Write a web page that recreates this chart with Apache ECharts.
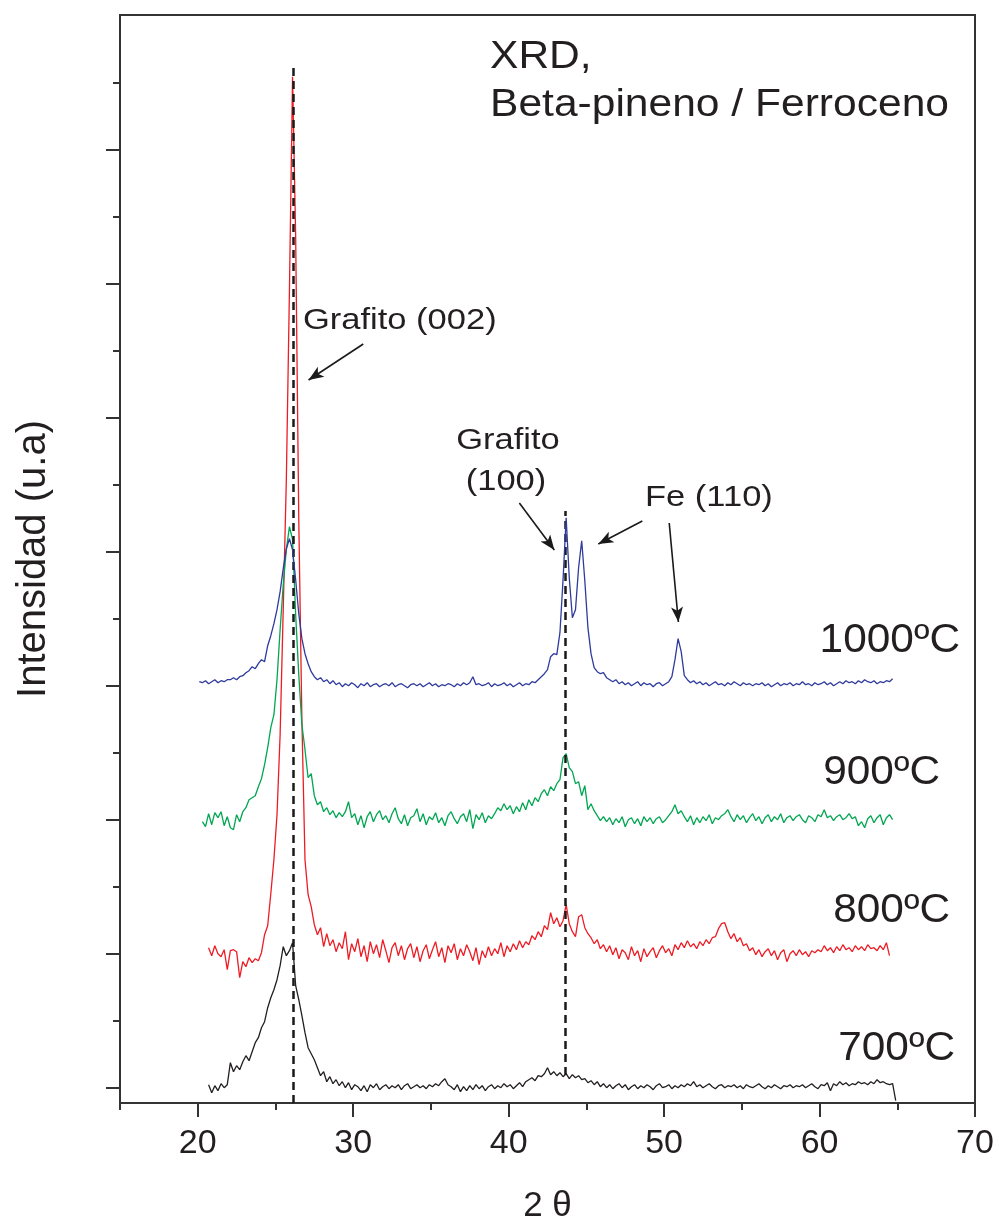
<!DOCTYPE html>
<html>
<head>
<meta charset="utf-8">
<script src="https://cdn.jsdelivr.net/npm/echarts@6/dist/echarts.min.js"></script>
<style>html,body{margin:0;padding:0;background:#fff}#c{width:999px;height:1224px}</style>
</head>
<body>
<div id="c"></div>
<script>
// ---- data (2θ step 0.2°, intensities in arbitrary units above each curve's baseline) ----
const STEP = 0.2;
const seriesNames = ['700ºC', '800ºC', '900ºC', '1000ºC'];
const baselineOffsets = [0, 134, 268, 402];
const xStarts = [20.7, 20.7, 20.3, 20.1];

const i700 = [
  3,-5,2,-3,4,0,3,25,16,22,          // 20.7
  18,26,32,27,36,45,50,60,66,80,     // 22.7
  90,98,108,122,141,132,137,145,102,88, // 24.7
  72,55,40,34,28,20,12,16,6,11,      // 26.7
  4,8,2,6,0,5,-2,3,1,-3,             // 28.7
  2,-4,3,0,4,-2,1,3,-1,2,            // 30.7
  0,3,-2,2,4,-1,1,3,0,2,             // 32.7
  -1,3,1,4,2,6,9,3,1,-2,             // 34.7
  3,-4,1,-3,2,-2,3,-1,2,-3,          // 36.7
  1,3,-1,2,0,4,1,3,-1,2,             // 38.7
  5,1,6,8,10,7,12,11,14,20,          // 40.7
  13,16,12,15,11,14,9,13,10,12,      // 42.7
  8,9,5,7,3,6,1,4,0,3,               // 44.7
  -1,2,4,0,3,-2,1,3,-1,2,            // 46.7
  0,3,1,-2,2,4,0,1,3,-1,             // 48.7
  2,0,3,1,4,2,6,1,3,0,               // 50.7
  2,4,1,-1,2,3,0,2,1,3,              // 52.7
  0,2,-1,3,1,0,2,4,1,-1,             // 54.7
  2,0,3,1,-1,2,1,3,0,2,              // 56.7
  1,3,0,2,4,1,-1,3,2,5,              // 58.7
  -3,4,2,6,3,5,2,4,3,6,              // 60.7
  4,5,3,6,4,8,5,6,4,3,               // 62.7
  4,-13                              // 64.7
];
const i800 = [
  6,-2,8,0,-3,4,-16,3,4,2,           // 20.7
  -24,-8,-13,-4,-9,-5,-7,1,19,28,    // 22.7
  60,94,139,219,344,474,664,877,717,434, // 24.7
  234,94,59,47,29,19,26,7,20,8,      // 26.7
  14,2,11,5,22,-6,10,2,15,-3,        // 28.7
  8,-8,12,0,9,-4,14,3,-9,6,          // 30.7
  11,-2,8,-6,5,10,-4,7,-8,3,         // 32.7
  9,-5,4,12,-3,6,-9,8,1,10,          // 34.7
  -6,5,-2,9,2,-7,6,-11,3,-4,         // 36.7
  7,-2,5,0,11,-3,8,2,10,4,           // 38.7
  13,6,12,9,18,14,22,17,28,24,       // 40.7
  41,30,36,27,33,49,30,22,17,37,     // 42.7
  39,26,20,16,10,14,5,9,2,8,         // 44.7
  -1,6,-5,4,1,-6,7,-2,3,-8,          // 46.7
  5,-3,2,6,-4,3,8,1,5,-2,            // 48.7
  9,4,11,6,13,7,10,5,12,8,           // 50.7
  14,10,16,17,25,30,31,22,15,20,     // 52.7
  12,16,8,10,3,6,-1,4,-3,2,          // 54.7
  5,-2,3,-6,1,4,-8,0,3,-2,           // 56.7
  4,-1,2,-3,3,1,4,2,8,3,             // 58.7
  6,1,7,3,9,4,6,2,8,4,               // 60.7
  7,3,9,5,6,3,8,4,11,-2              // 62.7
];
const i900 = [
  -2,-7,6,-5,7,2,8,-6,3,-8,          // 20.3
  -10,5,-2,8,12,20,22,24,33,41,      // 22.3
  55,72,92,105,140,190,235,270,293,280, // 24.3
  205,145,95,70,42,46,24,15,18,8,    // 26.3
  12,5,9,2,7,3,8,18,2,6,             // 28.3
  -5,4,-8,3,8,-2,5,9,0,4,            // 30.3
  -3,6,12,1,-4,5,-6,2,4,11,          // 32.3
  -2,6,-5,3,0,7,-3,2,-6,4,           // 34.3
  8,1,-4,3,6,-2,10,-9,5,0,           // 36.3
  7,-3,4,1,6,12,9,16,10,14,          // 38.3
  6,13,8,17,10,20,14,22,18,26,       // 40.3
  30,24,33,29,36,40,62,66,52,48,     // 42.3
  36,38,24,34,10,16,9,4,-1,3,        // 44.3
  -2,2,-5,1,-3,3,-7,0,2,-4,          // 46.3
  1,-6,3,-2,2,-4,1,3,-3,0,           // 48.3
  4,8,15,6,9,3,-2,4,-5,2,            // 50.3
  -3,3,-1,5,-4,2,0,4,6,10,           // 52.3
  3,-2,5,0,4,-3,2,6,-1,3,            // 54.3
  -4,2,5,-2,3,0,6,-3,2,4,            // 56.3
  -1,3,5,0,-3,4,2,-2,5,3,            // 58.3
  10,2,4,-1,3,5,0,2,6,1,             // 60.3
  3,-6,-2,-8,1,4,-3,2,5,-5,          // 62.3
  2,5,0                              // 64.3
];
const i1000 = [
  4,3,5,2,4,6,3,5,4,6,               // 20.1
  6,8,6,9,10,13,15,19,17,22,         // 22.1
  26,24,40,50,62,76,94,117,137,147,  // 24.1
  136,106,72,47,32,22,14,9,6,8,      // 26.1
  4,6,2,5,1,3,-1,2,0,3,              // 28.1
  1,-2,2,0,3,-1,1,2,-1,1,            // 30.1
  2,0,3,-1,1,2,0,-2,1,2,             // 32.1
  0,2,-1,1,3,0,2,-1,1,0,             // 34.1
  2,1,-1,2,0,3,1,3,9,1,              // 36.1
  2,0,1,3,-1,2,0,1,3,0,              // 38.1
  2,-1,1,3,0,2,1,4,3,6,              // 40.1
  9,12,16,29,32,31,53,106,168,108,   // 42.1
  68,76,118,145,105,58,32,18,14,12,  // 44.1
  13,8,6,4,6,2,4,1,3,0,              // 46.1
  2,4,0,3,1,2,-1,2,3,0,              // 48.1
  2,4,9,26,47,34,10,6,3,5,           // 50.1
  2,4,1,3,0,2,4,1,2,0,               // 52.1
  3,1,4,2,0,3,1,2,0,2,               // 54.1
  1,3,0,2,-1,1,3,0,2,1,              // 56.1
  3,0,2,1,4,1,2,0,3,1,               // 58.1
  2,4,1,3,0,2,4,2,5,3,               // 60.1
  4,2,5,3,6,4,3,5,2,4,               // 62.1
  3,5,4,7                            // 64.1
];
const intensities = [i700, i800, i900, i1000];
const colors = ['#231f20', '#ed1c24', '#00a651', '#2e3a9c'];

// axis
const xMin = 15, xMax = 70;
const yMin = -15.3, yMax = 1072.7;
const xMajorTicks = [20, 30, 40, 50, 60, 70];
const xMinorTicks = [15, 25, 35, 45, 55, 65];
const yMajorTicks = [0, 134, 268, 402, 536, 670, 804, 938];
const yMinorTicks = [67, 201, 335, 469, 603, 737, 871, 1005];

// reference lines (2θ, from-intensity, to-intensity)
const refLines = [[26.15, -15.3, 1021.7], [43.65, 12.7, 576.7]];
// annotation arrows [x1, y1, x2 (head), y2 (head)]
const arrows = [
  [30.65, 743.7, 27.13, 707.7],
  [40.69, 584.7, 42.94, 537.7],
  [48.60, 566.7, 45.77, 543.7],
  [50.33, 564.7, 50.92, 465.7]
];

// ---- chart ----
const FONT = '"Liberation Sans", Arial, Helvetica, sans-serif';
const chart = echarts.init(document.getElementById('c'), null, {renderer: 'canvas'});

const lineSeries = intensities.map((vals, k) => ({
  name: seriesNames[k],
  type: 'line',
  xAxisIndex: 0, yAxisIndex: 0,
  showSymbol: false,
  symbol: 'none',
  silent: true,
  lineStyle: {color: colors[k], width: 1.3},
  data: vals.map((v, i) => [+(xStarts[k] + STEP * i).toFixed(2), v + baselineOffsets[k]]),
  z: 2 + k
}));

const annot = {
  type: 'line', xAxisIndex: 0, yAxisIndex: 0, data: [], silent: true, z: 10,
  markLine: {
    silent: true, animation: false,
    label: {show: false},
    symbol: 'none',
    data: [
      ...refLines.map(r => [
        {coord: [r[0], r[1]], lineStyle: {color: '#1a1a1a', width: 2.5, type: [8, 5]}},
        {coord: [r[0], r[2]]}
      ]),
      ...arrows.map(a => [
        {coord: [a[0], a[1]], symbol: 'none', lineStyle: {color: '#1a1a1a', width: 1.6, type: 'solid'}},
        {coord: [a[2], a[3]], symbol: 'arrow', symbolSize: [9, 15]}
      ])
    ]
  }
};

function txt(text, x, y, size, align, sx) {
  return {
    type: 'text', x: x, y: y, scaleX: sx || 1, z: 20, silent: true,
    style: {text: text, font: size + 'px ' + FONT, fill: '#231f20', align: align, verticalAlign: 'middle'}
  };
}

chart.setOption({
  animation: false,
  backgroundColor: '#fff',
  grid: {left: 120, right: 24, top: 15, bottom: 121, show: true, borderColor: '#333', borderWidth: 2,
         containLabel: false, outerBoundsMode: 'none'},
  xAxis: [
    {
      type: 'value', min: xMin, max: xMax, position: 'bottom',
      name: '2 θ', nameLocation: 'middle', nameGap: 86,
      nameTextStyle: {fontSize: 35, fontFamily: FONT, color: '#231f20'},
      axisLine: {show: true, onZero: false, lineStyle: {color: '#333', width: 2}},
      axisTick: {show: true, inside: false, length: 14, customValues: xMajorTicks, lineStyle: {color: '#333', width: 2}},
      axisLabel: {show: true, customValues: xMajorTicks, margin: 24, fontSize: 34, fontFamily: FONT, color: '#231f20'},
      splitLine: {show: false}
    },
    {
      type: 'value', min: xMin, max: xMax, position: 'bottom',
      axisLine: {show: false, onZero: false},
      axisTick: {show: true, inside: false, length: 7, customValues: xMinorTicks, lineStyle: {color: '#333', width: 2}},
      axisLabel: {show: false},
      splitLine: {show: false}
    }
  ],
  yAxis: [
    {
      type: 'value', min: yMin, max: yMax, position: 'left',
      name: 'Intensidad (u.a)', nameLocation: 'middle', nameGap: 66, nameRotate: 90,
      nameTextStyle: {fontSize: 40, fontFamily: FONT, color: '#231f20'},
      axisLine: {show: true, onZero: false, lineStyle: {color: '#333', width: 2}},
      axisTick: {show: true, inside: false, length: 14, customValues: yMajorTicks, lineStyle: {color: '#333', width: 2}},
      axisLabel: {show: false},
      splitLine: {show: false}
    },
    {
      type: 'value', min: yMin, max: yMax, position: 'left',
      axisLine: {show: false, onZero: false},
      axisTick: {show: true, inside: false, length: 7, customValues: yMinorTicks, lineStyle: {color: '#333', width: 2}},
      axisLabel: {show: false},
      splitLine: {show: false}
    }
  ],
  series: [...lineSeries, annot],
  graphic: [
    txt('XRD,', 490, 58, 38, 'left', 1.12),
    txt('Beta-pineno / Ferroceno', 490, 106, 38, 'left', 1.12),
    txt('Grafito (002)', 303, 321, 30, 'left', 1.15),
    txt('Grafito', 508, 441, 30, 'center', 1.15),
    txt('(100)', 506, 482, 30, 'center', 1.15),
    txt('Fe (110)', 645, 498, 30, 'left', 1.15),
    txt('1000ºC', 960, 641, 40, 'right', 1.06),
    txt('900ºC', 940, 773, 40, 'right', 1.06),
    txt('800ºC', 950, 911, 40, 'right', 1.06),
    txt('700ºC', 955, 1049, 40, 'right', 1.06)
  ]
});
</script>
</body>
</html>
